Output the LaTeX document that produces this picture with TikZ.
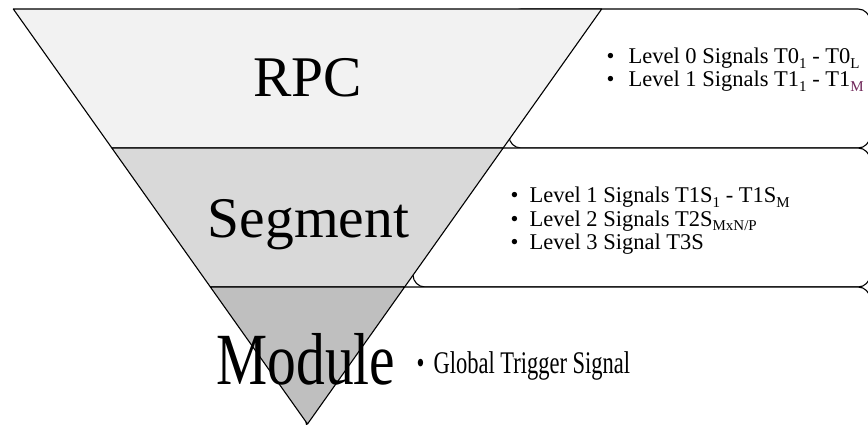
\documentclass[tikz,border=0pt]{standalone}
\usepackage{fontspec}
\setmainfont{Liberation Serif}
\usetikzlibrary{positioning,calc}
\definecolor{rpc-grey}{RGB}{242,242,242}
\definecolor{seg-grey}{RGB}{217,217,217}
\definecolor{mod-grey}{RGB}{191,191,191}
\definecolor{sub-purple}{RGB}{112,40,90}
\newcommand\listbullet[1]{\makebox[#1][l]{\textbullet}}
\newcommand\lowsub[1]{\raisebox{-4.5pt}{\fontsize{15}{15}\selectfont #1}}

\begin{document}
\begin{tikzpicture}[x=1pt, y=-1pt, line width=1.1pt, line join=round,
  callout/.style={draw=black, fill=white, rounded corners=12pt},
  bigtext/.style={font=\fontsize{57.5}{60}\selectfont, inner sep=0pt, anchor=base},
  listtext/.style={font=\fontsize{22.5}{24}\selectfont, inner sep=0pt, anchor=base west,
    text height=13pt, text depth=4pt}]
	  \useasboundingbox (0,0) rectangle (868,425);
	  \clip (0,0) rectangle (868,425);
	  % callout boxes behind the pyramid
	  \draw[callout] (509,9) rectangle (870,148);
	  \draw[callout] (413,148) rectangle (870,287);
	  \draw[callout] (306,287) rectangle (870,434);
	  % inverted pyramid
	  \coordinate (apex) at (307.5,424);
	  \coordinate (tl) at (13.3,9);
	  \coordinate (tr) at (601.7,9);
	  \coordinate (l1) at ($(apex)!0.6651!(tl)$);
	  \coordinate (r1) at ($(apex)!0.6651!(tr)$);
	  \coordinate (l2) at ($(apex)!0.3301!(tl)$);
	  \coordinate (r2) at ($(apex)!0.3301!(tr)$);
	  \filldraw[fill=rpc-grey] (tl) -- (tr) -- (r1) -- (l1) -- cycle;
	  \filldraw[fill=seg-grey] (l1) -- (r1) -- (r2) -- (l2) -- cycle;
	  \filldraw[fill=mod-grey] (l2) -- (r2) -- (apex) -- cycle;
	  % layer names
	  \node[bigtext] (rpc) at (307.5,97) {RPC};
	  \node[bigtext] (segment) at (308.5,237) {Segment};
	  \node[bigtext] (module) at (306,384) {\scalebox{1}[1.28]{Module}};
	  % signal lists
	  \node[listtext] (rpc-l0) at (606,64) {\listbullet{22pt}Level 0 Signals T0\lowsub{1} - T0\lowsub{L}};
	  \node[listtext] (rpc-l1) at (606,87) {\listbullet{22pt}Level 1 Signals T1\lowsub{1} - T1\lowsub{\textcolor{sub-purple}{M}}};
	  \node[listtext] (seg-l1) at (510,203) {\listbullet{19pt}Level 1 Signals T1S\lowsub{1} - T1S\lowsub{M}};
	  \node[listtext] (seg-l2) at (510,226) {\listbullet{19pt}Level 2 Signals T2S\lowsub{MxN/P}};
	  \node[listtext] (seg-l3) at (510,249) {\listbullet{19pt}Level 3 Signal T3S};
	  \node[listtext] (mod-l0) at (416,373) {\scalebox{1}[1.4]{\listbullet{17pt}Global Trigger Signal}};
	\end{tikzpicture}
\end{document}
